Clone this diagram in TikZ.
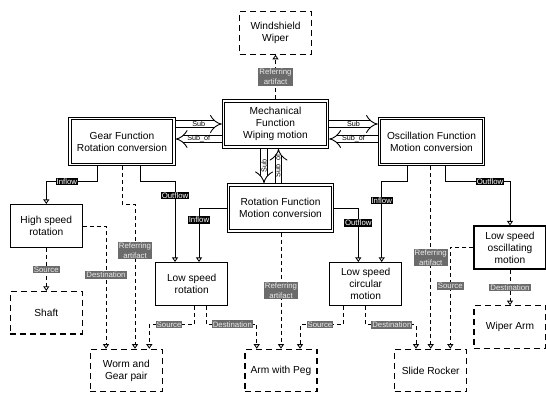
\documentclass[tikz,border=0pt]{standalone}
\usepackage{fontspec}
\setmainfont{Liberation Sans}
\usetikzlibrary{arrows.meta}
\begin{document}
\begin{tikzpicture}[x=1pt,y=-1pt,
  every node/.style={font=\fontsize{10.2}{12}\selectfont, align=center, inner sep=0pt},
  dbox/.style={draw, double, double distance=1.6pt, line width=0.9pt, minimum width=104pt, minimum height=46pt, outer sep=1.7pt},
  sbox/.style={draw, line width=1.1pt, minimum width=72pt, minimum height=43pt},
  dashbox/.style={draw, line width=1.1pt, dash pattern=on 6pt off 4pt, minimum width=72pt, minimum height=42.5pt},
  opentip/.style={-{Triangle[open,width=6pt,length=4.5pt]}},
  conn/.style={line width=0.8pt, opentip},
  dconn/.style={conn, dash pattern=on 4pt off 3pt},
  blk/.style={fill=black, text=white, font=\fontsize{7.8}{9}\selectfont, inner sep=0.8pt},
  gry/.style={fill=black!58, text=black!8, font=\fontsize{7.8}{9.8}\selectfont, inner sep=1pt},
  subar/.style={double, double distance=5.5pt, line width=0.9pt, -{Implies}},
  sublbl/.style={font=\fontsize{7.2}{7.5}\selectfont, inner sep=0pt}
]
\useasboundingbox (0,0) rectangle (546,393);

% boxes
\node[dashbox] (WS) at (275.5,33) {Windshield\\Wiper};
\node[dbox] (Mech) at (275.5,124) {Mechanical\\Function\\Wiping motion};
\node[dbox] (Gear) at (122,141.5) {Gear Function\\Rotation conversion};
\node[dbox] (Osc) at (431.5,141.5) {Oscillation Function\\Motion conversion};
\node[dbox] (Rot) at (280.5,208) {Rotation Function\\Motion conversion};
\node[sbox] (HS) at (46.3,226) {High speed\\rotation};
\node[sbox] (LowRot) at (191.7,284) {Low speed\\rotation};
\node[sbox] (LowCirc) at (365.7,284) {Low speed\\circular\\motion};
\node[sbox] (LowOsc) at (510,247.5) {Low speed\\oscillating\\motion};
\node[dashbox] (Shaft) at (46.3,312.7) {Shaft};
\node[dashbox] (Worm) at (126.3,370.5) {Worm and\\Gear pair};
\node[dashbox] (Arm) at (281,370.5) {Arm with Peg};
\node[dashbox] (Slide) at (430.7,370.5) {Slide Rocker};
\node[dashbox] (Wiper) at (510,327) {Wiper Arm};

% Sub / Sub_of arrows
\draw[subar] ([yshift=17.5pt]Gear.east) -- node[sublbl]{Sub} (Mech.west);
\draw[subar] ([yshift=-15pt]Mech.west) -- node[sublbl]{Sub\_of} ([yshift=2.5pt]Gear.east);
\draw[subar] (Mech.east) -- node[sublbl]{Sub} ([yshift=17.5pt]Osc.west);
\draw[subar] ([yshift=2.5pt]Osc.west) -- node[sublbl]{Sub\_of} ([yshift=-15pt]Mech.east);
\draw[subar] ([xshift=-11.5pt]Mech.south) -- node[sublbl,rotate=90]{Sub} ([xshift=-16.5pt]Rot.north);
\draw[subar] ([xshift=-2pt]Rot.north) -- node[sublbl,rotate=90]{Sub\_of} ([xshift=3pt]Mech.south);

% referring artifacts
\draw[dconn] (Mech.north) -- node[gry]{Referring\\artifact} (WS.south);
\draw[dconn] (Gear.south) -- ++(0,38) -| node[pos=0.66,gry]{Referring\\artifact} ([xshift=8.7pt]Worm.north);
\draw[dconn] (Arm.north |- Rot.south) -- node[gry]{Referring\\artifact} (Arm.north);
\draw[dconn] (Slide.north |- Osc.south) -- node[gry]{Referring\\artifact} (Slide.north);

% inflow / outflow
\draw[conn] ([xshift=-24.3pt]Gear.south) -- ++(0,15.5) -| node[pos=0.3,blk]{Inflow} (HS.north);
\draw[conn] ([xshift=18.7pt]Gear.south) -- ++(0,15) -| node[pos=0.59,blk]{Outflow} ([xshift=-16.7pt]LowRot.north);
\draw[conn] (Rot.west) -| node[pos=0.61,blk]{Inflow} ([xshift=7.3pt]LowRot.north);
\draw[conn] (Rot.east) -| node[pos=0.64,blk]{Outflow} ([xshift=-7.4pt]LowCirc.north);
\draw[conn] ([xshift=-24.2pt]Osc.south) -- ++(0,15) -| node[pos=0.62,blk]{Inflow} ([xshift=16pt]LowCirc.north);
\draw[conn] ([xshift=14.2pt]Osc.south) -- ++(0,15.5) -| node[pos=0.345,blk]{Outflow} (LowOsc.north);

% source / destination
\draw[dconn] (HS.south) -- node[gry]{Source} (Shaft.north);
\draw[dconn] (HS.east) -| node[pos=0.7,gry]{Destination} ([xshift=-20.3pt]Worm.north);
\draw[dconn] ([xshift=2.6pt]LowRot.south) -- ++(0,18.3) -| node[pos=0.28,gry]{Source} ([xshift=23pt]Worm.north);
\draw[dconn] ([xshift=14.3pt]LowRot.south) -- ++(0,18.3) -| node[pos=0.26,gry]{Destination} ([xshift=-24.3pt]Arm.north);
\draw[dconn] ([xshift=-22.4pt]LowCirc.south) -- ++(0,18.6) -| node[pos=0.27,gry]{Source} ([xshift=19pt]Arm.north);
\draw[dconn] (LowCirc.south) -- ++(0,18.6) -| node[pos=0.26,gry]{Destination} ([xshift=-14.7pt]Slide.north);
\draw[dconn] (LowOsc.west) -| node[pos=0.69,gry]{Source} ([xshift=19.6pt]Slide.north);
\draw[dconn] (LowOsc.south) -- node[gry]{Destination} (Wiper.north);
\end{tikzpicture}
\end{document}
